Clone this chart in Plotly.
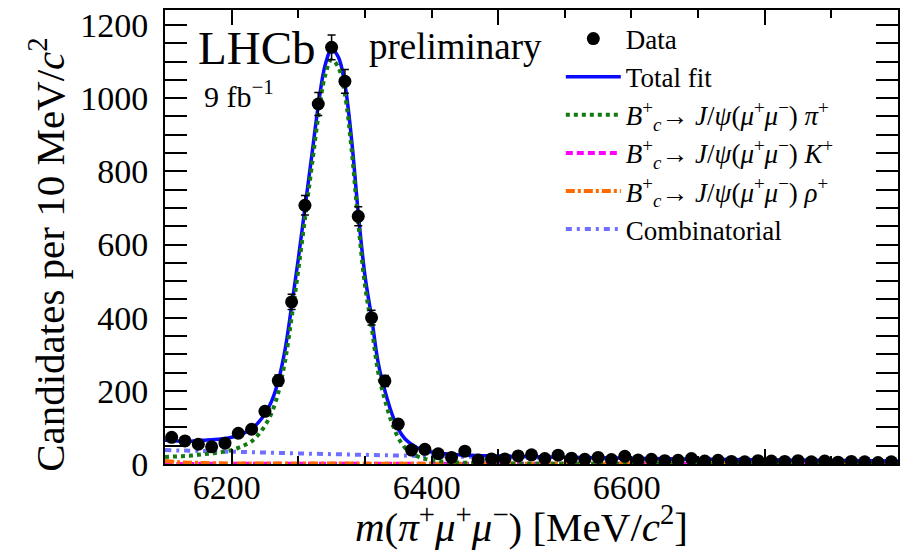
import plotly.graph_objects as go

# ---------------- data ----------------
bin_centers = [6155, 6165, 6175, 6185, 6195, 6205, 6215, 6225, 6235, 6245,
               6255, 6265, 6275, 6285, 6295, 6305, 6315, 6325, 6335, 6345,
               6355, 6365, 6375, 6385, 6395, 6405, 6415, 6425, 6435, 6445,
               6455, 6465, 6475, 6485, 6495, 6505, 6515, 6525, 6535, 6545,
               6555, 6565, 6575, 6585, 6595, 6605, 6615, 6625, 6635, 6645,
               6655, 6665, 6675, 6685, 6695]
counts = [73, 63, 54, 47, 57, 84, 95, 144, 228, 443,
          707, 984, 1139, 1046, 677, 400, 227, 109, 38, 40,
          28, 18, 35, 11, 14, 14, 22, 25, 15, 24,
          16, 13, 18, 12, 21, 11, 13, 9, 10, 15,
          8, 10, 7, 6, 9, 8, 7, 9, 6, 8,
          5, 7, 6, 4, 6]
count_errors = [8.5, 7.9, 7.3, 6.9, 7.5, 9.2, 9.7, 12.0, 15.1, 21.0,
                26.6, 31.4, 33.7, 32.3, 26.0, 20.0, 15.1, 10.4, 6.2, 6.3,
                5.3, 4.2, 5.9, 3.3, 3.7, 3.7, 4.7, 5.0, 3.9, 4.9,
                4.0, 3.6, 4.2, 3.5, 4.6, 3.3, 3.6, 3.0, 3.2, 3.9,
                2.8, 3.2, 2.6, 2.4, 3.0, 2.8, 2.6, 3.0, 2.4, 2.8,
                2.2, 2.6, 2.4, 2.0, 2.4]

fit_x = [6150, 6155, 6160, 6165, 6170, 6175, 6180, 6185, 6190, 6195,
         6200, 6205, 6210, 6215, 6220, 6225, 6230, 6235, 6240, 6245,
         6250, 6255, 6260, 6265, 6270, 6275, 6280, 6285, 6290, 6295,
         6300, 6305, 6310, 6315, 6320, 6325, 6330, 6335, 6340, 6345,
         6350, 6355, 6360, 6365, 6370, 6375, 6380, 6385, 6390, 6395,
         6400, 6425, 6450, 6475, 6500, 6525, 6550, 6575, 6600, 6625,
         6650, 6675, 6700]
total_fit = [65, 64, 63, 62.5, 62.5, 64, 65, 66, 67.5, 69.5,
             73, 78, 86, 95, 113, 137, 172, 227, 311, 431,
             560, 700, 839, 979, 1088, 1133, 1113, 1037, 887, 686,
             516, 401, 276, 200, 140, 96, 69, 54, 43, 37,
             33, 30, 28, 27, 25.5, 24.5, 24, 23, 22.5, 22,
             21.8, 19.8, 18.2, 16.9, 15.6, 14.4, 13.3, 12.2, 11.3, 10.5,
             9.7, 8.9, 8.4]
signal_pi = [19, 20, 21, 22, 23, 25, 27, 29, 31, 34,
             38, 44, 52, 62, 80, 105, 140, 195, 280, 400,
             530, 670, 810, 950, 1060, 1105, 1085, 1010, 860, 660,
             490, 375, 250, 175, 115, 72, 45, 30, 20, 14,
             10, 8, 6, 5, 4, 3.5, 3, 2.5, 2.2, 2,
             1.8, 1.2, 0.9, 0.7, 0.5, 0.4, 0.3, 0.25, 0.2, 0.15,
             0.1, 0.1, 0.1]

comb_x = [6150, 6200, 6250, 6300, 6350, 6400, 6450, 6500, 6550, 6600, 6650, 6700]
comb = [38, 33.5, 29, 25, 21.5, 18.5, 16, 14, 12, 10.5, 9, 7.8]
kaon = [0.3, 0.4, 0.6, 0.9, 1.0, 0.8, 0.6, 0.4, 0.3, 0.2, 0.2, 0.1]

rho_x = [6150, 6160, 6170, 6180, 6200, 6250, 6300, 6400, 6500, 6600, 6700]
rho = [8, 5, 3.5, 2.5, 1.5, 1.2, 1.0, 0.8, 0.5, 0.3, 0.2]

x_ticks = [6200, 6400, 6600]
x_tick_labels = ["6200", "6400", "6600"]
y_ticks = [0, 200, 400, 600, 800, 1000, 1200]

FONT = "Liberation Serif, Times New Roman, serif"
BC = "<i>B</i><sup>+</sup><sub><i>c</i></sub>\u2192 <i>J</i>/<i>\u03c8</i>(<i>\u03bc</i><sup>+</sup><i>\u03bc</i><sup>\u2212</sup>) "

fig = go.Figure()

fig.add_trace(go.Scatter(x=comb_x, y=comb, mode="lines", name="Combinatorial",
                         line=dict(color="#6f6fff", width=4, dash="6px,5px,3px,5px", shape="spline"),
                         legendrank=6))
fig.add_trace(go.Scatter(x=comb_x, y=kaon, mode="lines",
                         name=BC + "<i>K</i><sup>+</sup>",
                         line=dict(color="#ff00ff", width=4, dash="7px,4px", shape="spline"),
                         legendrank=4))
fig.add_trace(go.Scatter(x=rho_x, y=rho, mode="lines",
                         name=BC + "<i>\u03c1</i><sup>+</sup>",
                         line=dict(color="#ff6a00", width=4, dash="9px,3px,3px,3px", shape="spline"),
                         legendrank=5))
fig.add_trace(go.Scatter(x=fit_x, y=total_fit, mode="lines", name="Total fit",
                         line=dict(color="#0a0aff", width=3.5, shape="spline"),
                         legendrank=2))
fig.add_trace(go.Scatter(x=fit_x, y=signal_pi, mode="lines",
                         name=BC + "<i>\u03c0</i><sup>+</sup>",
                         line=dict(color="#137a13", width=4, dash="dot", shape="spline"),
                         legendrank=3))
fig.add_trace(go.Scatter(x=bin_centers, y=counts, mode="markers", name="Data",
                         marker=dict(color="black", size=13, symbol="circle"),
                         error_y=dict(type="data", array=count_errors, color="black",
                                      thickness=1.5, width=4),
                         legendrank=1))
# empty trace that activates the label axis
fig.add_trace(go.Scatter(x=[], y=[], xaxis="x2", yaxis="y", mode="lines",
                         showlegend=False, hoverinfo="skip"))

fig.update_layout(
    width=907, height=550,
    margin=dict(l=165, r=7, t=9, b=86),
    paper_bgcolor="white", plot_bgcolor="white",
    font=dict(family=FONT, color="black", size=34),
    showlegend=True,
    legend=dict(x=0.54, y=0.99, xanchor="left", yanchor="top",
                bgcolor="rgba(0,0,0,0)", font=dict(size=27, family=FONT),
                itemwidth=55, tracegroupgap=0, traceorder="normal"),
    xaxis=dict(range=[6150, 6700], tickmode="array", tickvals=x_ticks,
               showticklabels=False,
               ticks="inside", ticklen=15, tickwidth=1.5, tickcolor="black",
               minor=dict(dtick=50, tick0=6150, ticks="inside", ticklen=8, tickwidth=1.5, tickcolor="black"),
               showline=True, linecolor="black", linewidth=2, mirror="allticks",
               showgrid=False, zeroline=False),
    # label layer: the reference prints its x tick labels on this scale
    xaxis2=dict(overlaying="x", anchor="y", side="bottom", range=[6138.2, 6871.3],
                tickmode="array", tickvals=x_ticks, ticktext=x_tick_labels,
                ticks="", showline=False, showgrid=False, zeroline=False,
                tickfont=dict(size=34, family=FONT), ticklabelstandoff=0),
    yaxis=dict(range=[0, 1241], tickmode="array", tickvals=y_ticks,
               ticks="inside", ticklen=22, tickwidth=1.5, tickcolor="black",
               minor=dict(dtick=50, tick0=0, ticks="inside", ticklen=11, tickwidth=1.5, tickcolor="black"),
               showline=True, linecolor="black", linewidth=2, mirror="allticks",
               showgrid=False, zeroline=False, ticklabelstandoff=8,
               tickfont=dict(size=34, family=FONT)),
    annotations=[
        dict(text="Candidates per 10 MeV/<i>c</i><sup>2</sup>", textangle=-90,
             xref="paper", yref="paper", x=-0.1605, y=0.4615,
             xanchor="center", yanchor="middle", showarrow=False,
             font=dict(size=41, family=FONT)),
        dict(text="<i>m</i>(<i>\u03c0</i><sup>+</sup><i>\u03bc</i><sup>+</sup><i>\u03bc</i><sup>\u2212</sup>) [MeV/<i>c</i><sup>2</sup>]",
             xref="paper", yref="paper", x=0.486, y=-0.132,
             xanchor="center", yanchor="middle", showarrow=False,
             font=dict(size=41, family=FONT)),
        dict(text="LHCb", xref="paper", yref="paper", x=0.125, y=0.9165,
             xanchor="center", yanchor="middle", showarrow=False,
             font=dict(size=47, family=FONT)),
        dict(text="9 fb<sup>\u22121</sup>", xref="paper", yref="paper", x=0.05, y=0.815,
             xanchor="left", yanchor="middle", showarrow=False,
             font=dict(size=30, family=FONT)),
        dict(text="preliminary", xref="paper", yref="paper", x=0.275, y=0.919,
             xanchor="left", yanchor="middle", showarrow=False,
             font=dict(size=37, family=FONT)),
    ],
)

fig.write_html("out.html")
